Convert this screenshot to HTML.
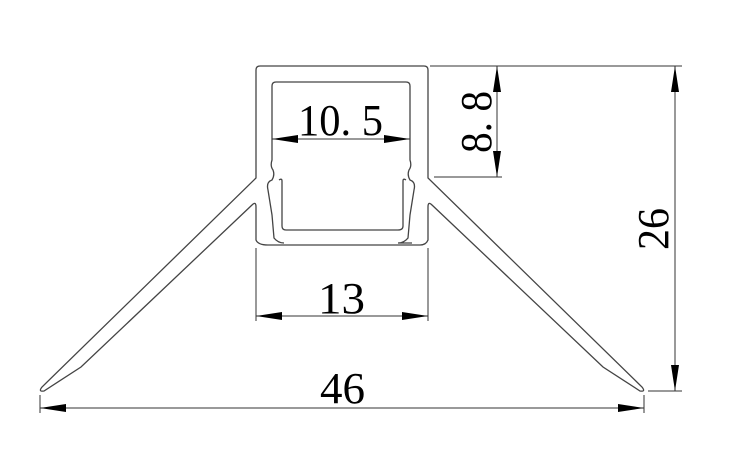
<!DOCTYPE html><html><head><style>body{margin:0;background:#fff}svg{display:block}text{font-family:"Liberation Serif",serif;fill:#000}</style></head><body>
<svg width="729" height="469" viewBox="0 0 729 469" xmlns="http://www.w3.org/2000/svg">
<g fill="none" stroke="#444" stroke-width="1.3">
<path d="M256,70 Q256,66 260,66 L424,66 Q428,66 428,70 L428,178 L642,387 Q646,392 640,391 L603,367 L432,205 Q428,201 428,207 L428,240 Q426,245 420,245 L268,245 Q258,245 256,240 L256,207 Q256,201 252,205 L81,367 L44,391 Q38,392 42,387 L256,178 Z"/>
<path d="M272,86 Q272,82 276,82 L406,82 Q410,82 410,86 L410,160 Q412,166 409,170 Q407,175 410,180 Q416,182 414,190 L410,215 L408,238 Q404,243 398,243 L412,243 M272,86 L272,160 Q270,166 273,170 Q275,175 272,180 Q266,182 268,190 L272,215 L274,238 Q278,243 284,243"/>
<path d="M282,181 L282,226 Q282,230 286,230 L398,230 Q403,230 403,226 L403,181 Q403,178 406,180"/>
<path d="M282,181 Q282,178 279,180"/>
</g>
<g stroke="#333" stroke-width="1" fill="none">
<line x1="256" y1="248" x2="256" y2="321"/><line x1="428" y1="248" x2="428" y2="321"/>
<line x1="256" y1="316" x2="428" y2="316"/>
<line x1="272" y1="139" x2="410" y2="139"/>
<line x1="40" y1="395" x2="40" y2="413"/><line x1="644" y1="395" x2="644" y2="413"/>
<line x1="40" y1="408" x2="644" y2="408"/>
<line x1="430" y1="66" x2="682" y2="66"/>
<line x1="434" y1="177" x2="502" y2="177"/>
<line x1="497" y1="66" x2="497" y2="177"/>
<line x1="675" y1="66" x2="675" y2="391"/>
<line x1="648" y1="391" x2="682" y2="391"/>
</g>
<g fill="#000">
<path d="M256,316 L282,312 L282,320Z"/><path d="M428,316 L402,312 L402,320Z"/>
<path d="M272,139 L298,135 L298,143Z"/><path d="M410,139 L384,135 L384,143Z"/>
<path d="M40,408 L66,404 L66,412Z"/><path d="M644,408 L618,404 L618,412Z"/>
<path d="M497,66 L493,92 L501,92Z"/><path d="M497,177 L493,151 L501,151Z"/>
<path d="M675,66 L671,92 L679,92Z"/><path d="M675,391 L671,365 L679,365Z"/>
</g>
<text x="298" y="135" font-size="44" textLength="85" lengthAdjust="spacingAndGlyphs">10. 5</text>
<text x="318" y="313" font-size="44" textLength="47" lengthAdjust="spacingAndGlyphs">13</text>
<text x="320" y="403" font-size="44" textLength="45" lengthAdjust="spacingAndGlyphs">46</text>
<text transform="translate(491,153) rotate(-90)" font-size="44" textLength="62" lengthAdjust="spacingAndGlyphs">8. 8</text>
<text transform="translate(668,250) rotate(-90)" font-size="44" textLength="42" lengthAdjust="spacingAndGlyphs">26</text>
</svg></body></html>
